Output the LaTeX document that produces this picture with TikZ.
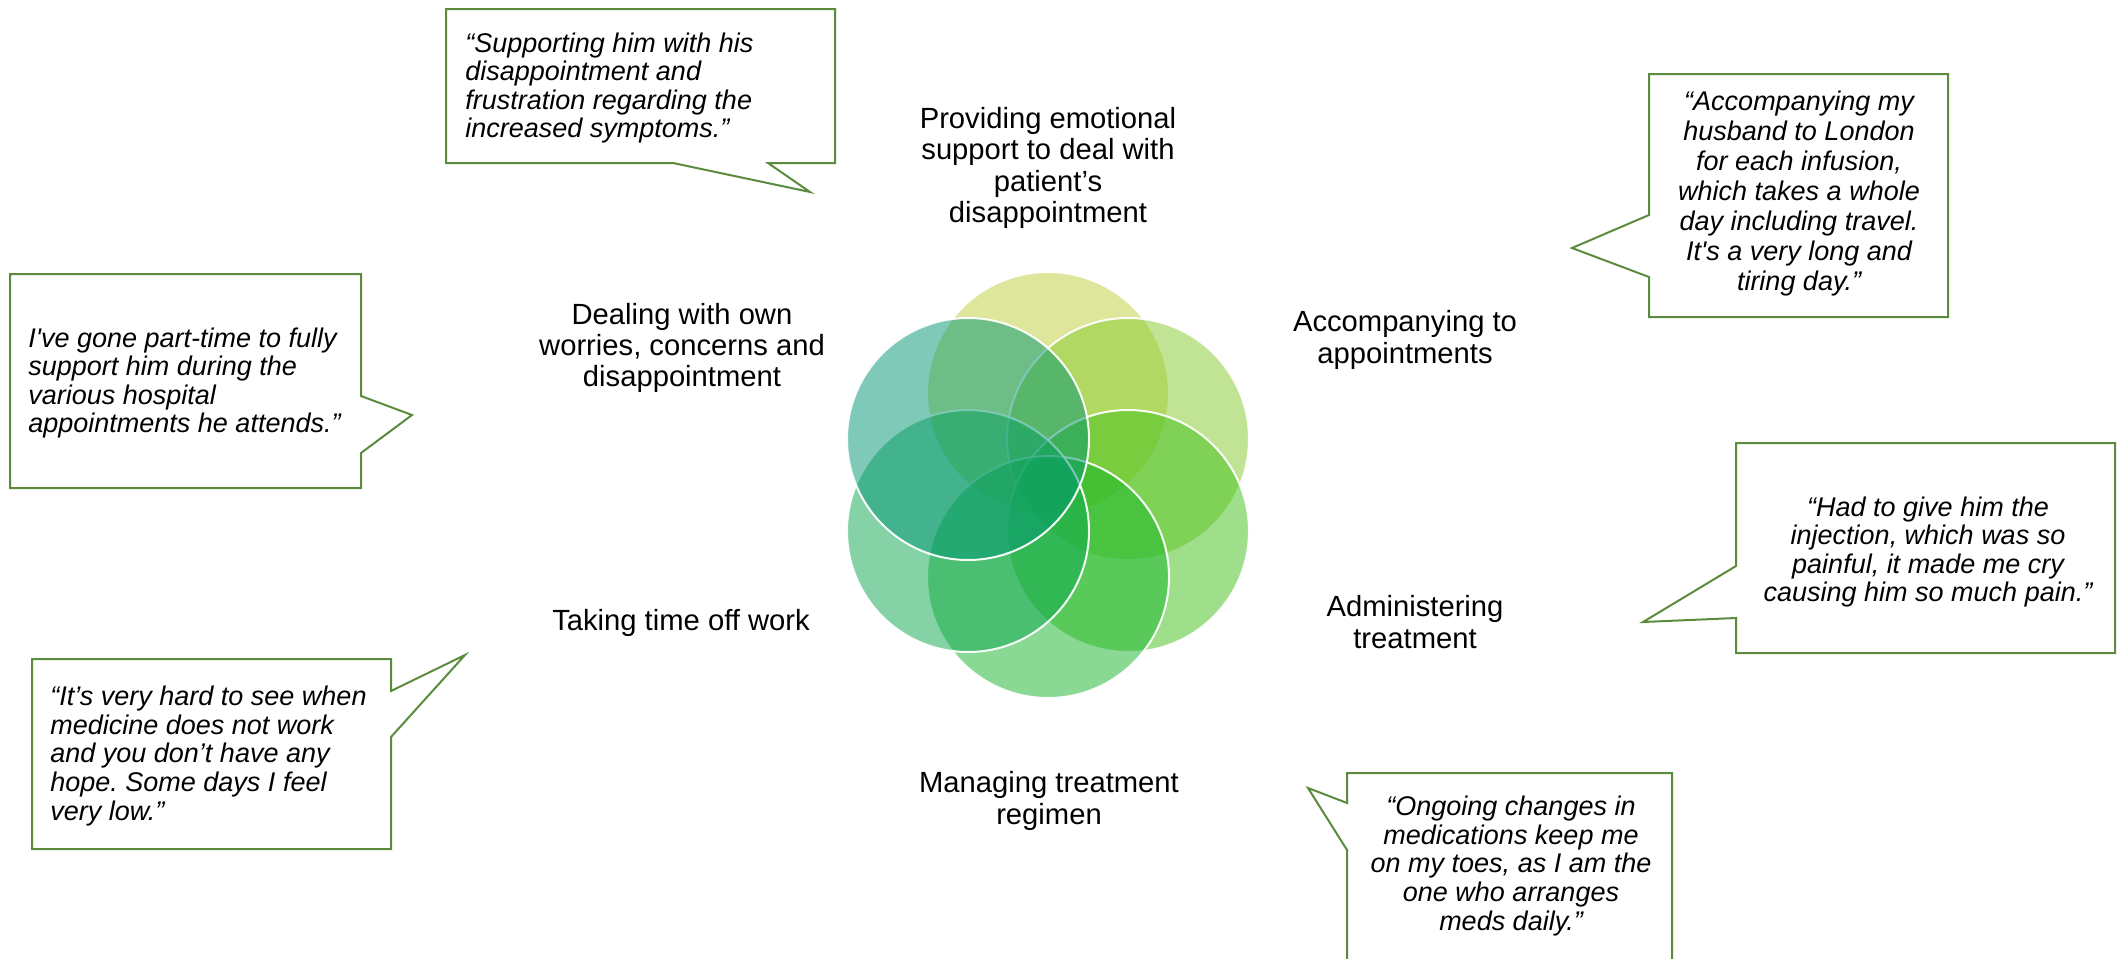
\documentclass[tikz,border=0pt]{standalone}
\usepackage{fontspec}
\setmainfont{Liberation Sans}
\frenchspacing
\definecolor{cA}{HTML}{BDCF37}
\definecolor{cB}{HTML}{85CB2B}
\definecolor{cC}{HTML}{41C119}
\definecolor{cD}{HTML}{15B52B}
\definecolor{cE}{HTML}{0DA751}
\definecolor{cF}{HTML}{019573}
\definecolor{cgreen}{HTML}{5B8C3E}
\tikzset{
  petal/.style={circle, minimum size=121pt, inner sep=0pt, fill=#1, fill opacity=0.5, draw=white, draw opacity=0.95, line width=1pt},
  lbl/.style={align=center, font=\fontsize{14.6}{15.6}\selectfont, text=black, inner sep=0pt},
  qtext/.style={font=\fontsize{13.5}{14.3}\selectfont\itshape, text=black, inner sep=0pt},
  callout/.style={draw=cgreen, line width=1pt, fill=white, line join=miter}
}
\begin{document}
\begin{tikzpicture}[x=0.5pt,y=-0.5pt]
\useasboundingbox (0,0) rectangle (2123,958);
\clip (0,0) rectangle (2123,958);
\fill[white] (0,0) rectangle (2123,958);

% circles
\node[petal=cA] (c1) at (1048,393) {};
\node[petal=cB] (c2) at (1128,439) {};
\node[petal=cC] (c3) at (1128,531) {};
\node[petal=cD] (c4) at (1048,577) {};
\node[petal=cE] (c5) at (968,531) {};
\node[petal=cF] (c6) at (968,439) {};

% labels
\node[lbl] (l1) at (1048,168) {Providing emotional\\support to deal with\\patient’s\\disappointment};
\node[lbl] (l2) at (1405,340) {Accompanying to\\appointments};
\node[lbl] (l3) at (1415,622) {Administering\\treatment};
\node[lbl] (l4) at (1049,801) {Managing treatment\\regimen};
\node[lbl] (l5) at (681,623) {Taking time off work};
\node[lbl] (l6) at (682,348) {Dealing with own\\worries, concerns and\\disappointment};

% callouts
\draw[callout] (446,9) -- (835,9) -- (835,163) -- (768,163) -- (810,192) -- (673,163) -- (446,163) -- cycle;
\node[qtext, align=left, anchor=west] (q1) at (465,88) {“Supporting him with his\\disappointment and\\frustration regarding the\\increased symptoms.”};

\draw[callout] (1649,74) -- (1948,74) -- (1948,317) -- (1649,317) -- (1649,277) -- (1572,248) -- (1649,215) -- cycle;
\node[qtext, align=center, font=\fontsize{13.5}{15}\selectfont\itshape] (q2) at (1799,194) {“Accompanying my\\husband to London\\for each infusion,\\which takes a whole\\day including travel.\\It\textquotesingle s a very long and\\tiring day.”};

\draw[callout] (10,274) -- (361,274) -- (361,396) -- (412,415) -- (361,453) -- (361,488) -- (10,488) -- cycle;
\node[qtext, align=left, anchor=west] (q3) at (28,383) {I\textquotesingle ve gone part-time to fully\\support him during the\\various hospital\\appointments he attends.”};

\draw[callout] (32,659) -- (391,659) -- (391,691) -- (465,655) -- (391,737) -- (391,849) -- (32,849) -- cycle;
\node[qtext, align=left, anchor=west] (q4) at (50,756) {“It’s very hard to see when\\medicine does not work\\and you don’t have any\\hope. Some days I feel\\very low.”};

\draw[callout] (1736,443) -- (2115,443) -- (2115,653) -- (1736,653) -- (1736,618) -- (1643,622) -- (1736,566) -- cycle;
\node[qtext, align=center] (q5) at (1928,552) {“Had to give him the\\injection, which was so\\painful, it made me cry\\causing him so much pain.”};

\draw[callout] (1347,773) -- (1672,773) -- (1672,1000) -- (1347,1000) -- (1347,850) -- (1308,788) -- (1347,803) -- cycle;
\node[qtext, align=center] (q6) at (1511,866) {“Ongoing changes in\\medications keep me\\on my toes, as I am the\\one who arranges\\meds daily.”};
\end{tikzpicture}
\end{document}
